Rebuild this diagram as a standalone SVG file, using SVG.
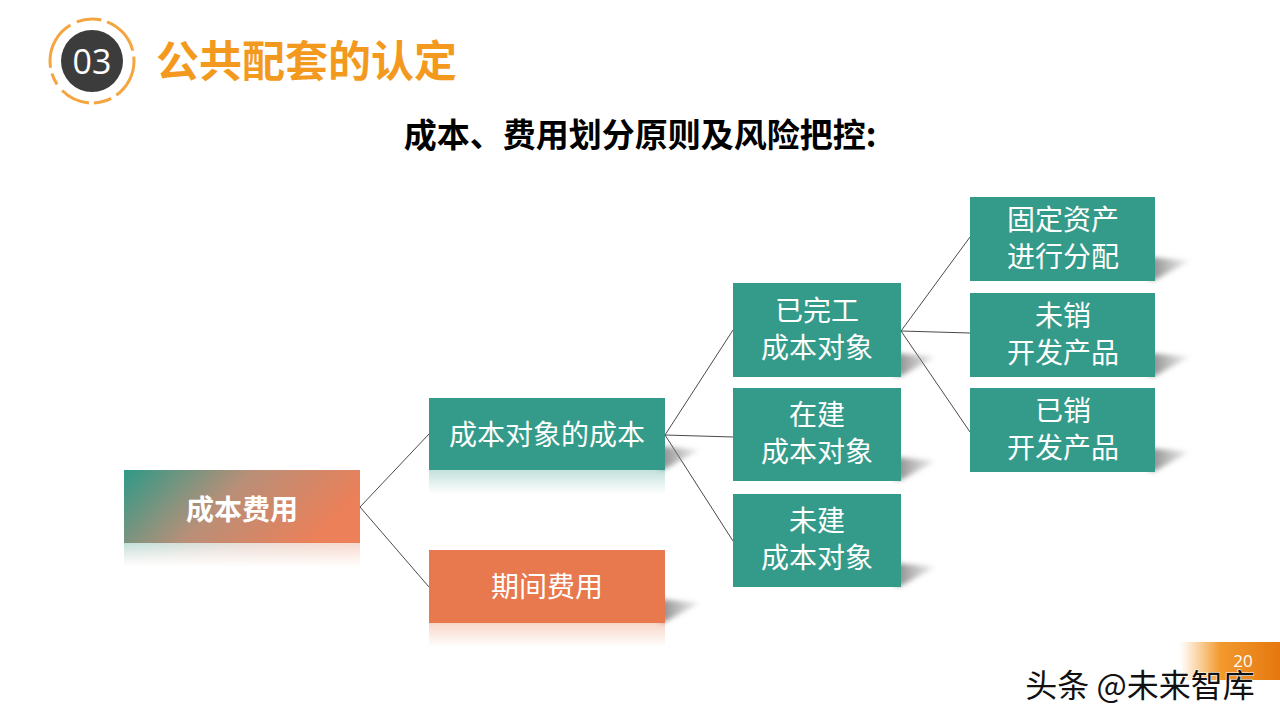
<svg xmlns="http://www.w3.org/2000/svg" width="1280" height="720" viewBox="0 0 1280 720">
<defs>
<style>
.t{fill:#fff;font-family:"Noto Sans CJK SC","Noto Sans",sans-serif;font-size:28px;text-anchor:middle}
.teal{fill:#349B8A}
.orange{fill:#E8784D}
.conn{stroke:#4a4a4a;stroke-width:1;fill:none}
</style>
<linearGradient id="grad1" x1="0" y1="0" x2="1" y2="0.3">
<stop offset="0" stop-color="#2E9A88"/>
<stop offset="0.5" stop-color="#B98F78"/>
<stop offset="1" stop-color="#EB8059"/>
</linearGradient>
<linearGradient id="fade" x1="0" y1="0" x2="0" y2="1">
<stop offset="0" stop-color="#fff" stop-opacity="0.3"/>
<stop offset="1" stop-color="#fff" stop-opacity="0"/>
</linearGradient>
<mask id="m1" maskContentUnits="objectBoundingBox">
<rect width="1" height="1" fill="url(#fade)"/>
</mask>
<linearGradient id="shg" x1="0" y1="0" x2="1" y2="0">
<stop offset="0" stop-color="#666" stop-opacity="0.8"/>
<stop offset="1" stop-color="#999" stop-opacity="0.2"/>
</linearGradient>
<linearGradient id="bar" x1="0" y1="0" x2="1" y2="0">
<stop offset="0" stop-color="#F5A23A" stop-opacity="0"/>
<stop offset="0.4" stop-color="#F29A2E"/>
<stop offset="1" stop-color="#E5780F"/>
</linearGradient>
<filter id="blur" x="-50%" y="-100%" width="200%" height="300%">
<feGaussianBlur stdDeviation="2.5"/>
</filter>
<g id="sh">
<polygon points="-6,-24 34,-20 0,-1 -6,-1" fill="url(#shg)" filter="url(#blur)"/>
</g>
</defs>
<rect width="1280" height="720" fill="#fff"/>

<g id="header">
<circle cx="92" cy="61" r="42" fill="none" stroke="#F5A540" stroke-width="3" stroke-dasharray="40 6 18 5 30 8 12 6 50 7 25 6"/>
<circle cx="92" cy="61" r="31" fill="#3C3C3C"/>
<text x="92" y="74" fill="#fff" font-family="'Open Sans','Liberation Sans',sans-serif" font-size="34" text-anchor="middle">03</text>
<text x="156" y="77" fill="#F39A1E" font-family="'Noto Sans CJK SC',sans-serif" font-size="43" font-weight="bold">公共配套的认定</text>
</g>

<g id="subtitle">
<text x="640" y="147" fill="#000" font-family="'Noto Sans CJK SC',sans-serif" font-size="33" font-weight="bold" text-anchor="middle">成本、费用划分原则及风险把控:</text>
</g>

<g id="connectors">
<path class="conn" d="M360 507 L429 434 M360 507 L429 587"/>
<path class="conn" d="M665 435 L733 330 M665 435 L733 437 M665 435 L733 541"/>
<path class="conn" d="M901 331 L970 237 M901 331 L970 333 M901 331 L970 432"/>
</g>

<g id="n-root">
<rect x="124" y="543" width="236" height="24" fill="url(#grad1)" mask="url(#m1)"/>
<rect x="124" y="470" width="236" height="73" fill="url(#grad1)"/>
<text class="t" x="242" y="520" font-size="35" font-weight="bold">成本费用</text>
</g>

<g id="n-cbdx">
<use href="#sh" x="665" y="470"/>
<rect x="429" y="470" width="236" height="24" class="teal" mask="url(#m1)"/>
<rect x="429" y="398" width="236" height="72" class="teal"/>
<text class="t" x="547" y="445">成本对象的成本</text>
</g>

<g id="n-qjfy">
<use href="#sh" x="665" y="623"/>
<rect x="429" y="623" width="236" height="24" class="orange" mask="url(#m1)"/>
<rect x="429" y="550" width="236" height="73" class="orange"/>
<text class="t" x="547" y="597">期间费用</text>
</g>

<g id="n-ywg">
<use href="#sh" x="901" y="377"/>
<rect x="733" y="283" width="168" height="94" class="teal"/>
<text class="t" x="817" y="321">已完工</text>
<text class="t" x="817" y="358">成本对象</text>
</g>

<g id="n-zj">
<use href="#sh" x="901" y="481"/>
<rect x="733" y="388" width="168" height="93" class="teal"/>
<text class="t" x="817" y="425">在建</text>
<text class="t" x="817" y="462">成本对象</text>
</g>

<g id="n-wj">
<use href="#sh" x="901" y="587"/>
<rect x="733" y="494" width="168" height="93" class="teal"/>
<text class="t" x="817" y="531">未建</text>
<text class="t" x="817" y="568">成本对象</text>
</g>

<g id="n-gdzc">
<use href="#sh" x="1155" y="281"/>
<rect x="970" y="197" width="185" height="84" class="teal"/>
<text class="t" x="1063" y="230">固定资产</text>
<text class="t" x="1063" y="267">进行分配</text>
</g>

<g id="n-wx">
<use href="#sh" x="1155" y="377"/>
<rect x="970" y="293" width="185" height="84" class="teal"/>
<text class="t" x="1063" y="326">未销</text>
<text class="t" x="1063" y="363">开发产品</text>
</g>

<g id="n-yx">
<use href="#sh" x="1155" y="472"/>
<rect x="970" y="388" width="185" height="84" class="teal"/>
<text class="t" x="1063" y="421">已销</text>
<text class="t" x="1063" y="458">开发产品</text>
</g>

<g id="footer">
<rect x="1180" y="642" width="100" height="38" fill="url(#bar)"/>
<text x="1243" y="667" fill="#fff" font-family="'Open Sans','Liberation Sans',sans-serif" font-size="17" text-anchor="middle">20</text>
<text x="1140" y="697" fill="#111" stroke="#fff" stroke-width="1.2" paint-order="stroke" font-family="'Noto Sans CJK SC',sans-serif" font-size="32" text-anchor="middle">头条 @未来智库</text>
</g>
</svg>
